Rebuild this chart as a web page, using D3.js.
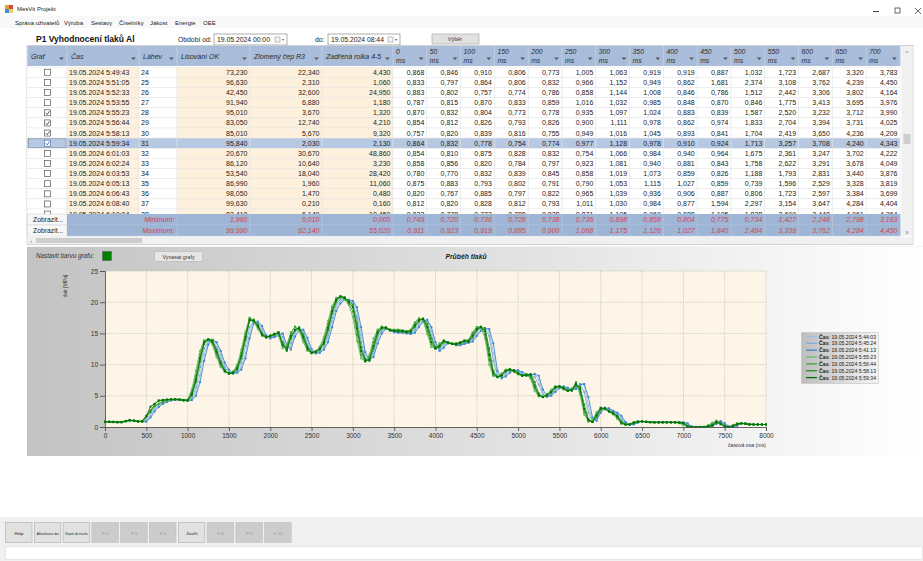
<!DOCTYPE html>
<html>
<head>
<meta charset="utf-8">
<script src="https://cdn.jsdelivr.net/npm/d3@7"></script>
<style>
  body { margin: 0; background: #fff; overflow: hidden; }
  svg { display: block; font-family: "Liberation Sans", Arial, sans-serif; }
</style>
</head>
<body>
<script>
// ---- tabulka (radky 24..38) ----
const rowNo = [24, 25, 26, 27, 28, 29, 30, 31, 32, 33, 34, 35, 36, 37, 38];
const rowTime = ["19.05.2024 5:49:43", "19.05.2024 5:51:05", "19.05.2024 5:52:33", "19.05.2024 5:53:55",
  "19.05.2024 5:55:23", "19.05.2024 5:56:44", "19.05.2024 5:58:13", "19.05.2024 5:59:34",
  "19.05.2024 6:01:03", "19.05.2024 6:02:24", "19.05.2024 6:03:53", "19.05.2024 6:05:13",
  "19.05.2024 6:06:43", "19.05.2024 6:08:40", "19.05.2024 6:10:04"];
const lisovaniOK = [73.23, 96.63, 42.45, 91.94, 95.01, 83.05, 85.01, 95.84, 20.67, 86.12, 53.54, 86.99, 98.05, 99.63, 83.41];
const zlomenyCep = [22.34, 2.31, 32.6, 6.88, 3.67, 12.74, 5.67, 2.03, 30.67, 10.64, 18.04, 1.96, 1.47, 0.21, 6.14];
const zadrenaRolka = [4.43, 1.06, 24.95, 1.18, 1.32, 4.21, 9.32, 2.13, 48.86, 3.23, 28.42, 11.06, 0.48, 0.16, 10.45];
const checkedRows = [28, 29, 30, 31];
const selectedRow = 31;
const msHeads = ["0", "50", "100", "150", "200", "250", "300", "350", "400", "450", "500", "550", "600", "650", "700"];
const msTable = [
  [0.868, 0.846, 0.910, 0.806, 0.773, 1.005, 1.063, 0.919, 0.919, 0.887, 1.032, 1.723, 2.687, 3.320, 3.783],
  [0.833, 0.797, 0.864, 0.806, 0.832, 0.966, 1.152, 0.949, 0.862, 1.681, 2.374, 3.108, 3.762, 4.239, 4.450],
  [0.883, 0.802, 0.757, 0.774, 0.786, 0.858, 1.144, 1.008, 0.846, 0.786, 1.512, 2.442, 3.306, 3.802, 4.164],
  [0.787, 0.815, 0.870, 0.833, 0.859, 1.016, 1.032, 0.985, 0.848, 0.870, 0.846, 1.775, 3.413, 3.695, 3.976],
  [0.870, 0.832, 0.804, 0.773, 0.778, 0.935, 1.097, 1.024, 0.883, 0.839, 1.587, 2.520, 3.232, 3.712, 3.990],
  [0.854, 0.812, 0.826, 0.793, 0.826, 0.900, 1.111, 0.978, 0.862, 0.974, 1.833, 2.704, 3.394, 3.731, 4.025],
  [0.757, 0.820, 0.839, 0.816, 0.755, 0.949, 1.016, 1.045, 0.893, 0.841, 1.704, 2.419, 3.650, 4.236, 4.209],
  [0.864, 0.832, 0.778, 0.754, 0.774, 0.977, 1.128, 0.978, 0.910, 0.924, 1.713, 3.257, 3.708, 4.240, 4.343],
  [0.854, 0.810, 0.875, 0.828, 0.832, 0.754, 1.066, 0.984, 0.940, 0.964, 1.675, 2.361, 3.247, 3.702, 4.222],
  [0.858, 0.856, 0.820, 0.784, 0.797, 0.923, 1.081, 0.940, 0.881, 0.843, 1.758, 2.622, 3.291, 3.678, 4.049],
  [0.780, 0.770, 0.832, 0.839, 0.845, 0.858, 1.019, 1.073, 0.859, 0.826, 1.188, 1.793, 2.831, 3.440, 3.876],
  [0.875, 0.883, 0.793, 0.802, 0.791, 0.790, 1.053, 1.115, 1.027, 0.859, 0.739, 1.596, 2.529, 3.328, 3.819],
  [0.820, 0.767, 0.885, 0.797, 0.822, 0.965, 1.039, 0.936, 0.906, 0.887, 0.806, 1.723, 2.597, 3.384, 3.699],
  [0.812, 0.820, 0.828, 0.812, 0.793, 1.011, 1.030, 0.984, 0.877, 1.594, 2.297, 3.154, 3.647, 4.284, 4.404],
  [0.833, 0.778, 0.773, 0.788, 0.828, 0.871, 1.105, 0.969, 0.888, 1.105, 1.838, 2.609, 3.448, 4.061, 4.264]
];
const minRow = [1.96, 0.01, 0.0, 0.749, 0.720, 0.736, 0.728, 0.738, 0.736, 0.898, 0.858, 0.804, 0.775, 0.734, 1.427, 2.248, 2.798, 3.163];
const maxRow = [99.99, 92.14, 55.02, 0.911, 0.923, 0.919, 0.885, 0.900, 1.068, 1.175, 1.126, 1.027, 1.840, 2.484, 3.339, 3.762, 4.284, 4.450];

// ---- graf: prubehy tlaku po 50 ms (0..8000) ----
const s054403 = [
  0.85,0.82,0.80,0.79,0.80,0.92,1.05,1.00,0.90,0.86,
  0.95,1.8,2.8,3.4,3.8,4.1,4.3,4.4,4.4,4.35,
  4.2,4.4,5.6,8.3,11.6,13.6,13.9,13.4,11.6,9.8,
  8.9,8.6,8.8,9.6,11.8,15.0,16.9,16.8,15.8,14.5,
  14.3,14.5,14.8,14.9,12.5,12.8,15.0,15.6,15.4,13.8,
  12.1,11.8,12.1,12.6,14.2,16.8,19.2,20.2,20.5,20.3,
  20.1,18.6,14.8,11.4,10.7,11.6,14.0,15.3,15.8,15.4,
  15.2,15.2,15.1,15.0,15.0,15.3,16.4,17.0,17.0,15.4,
  13.0,12.3,13.0,13.5,13.3,13.1,13.2,13.4,13.6,13.8,
  14.9,15.6,15.8,15.3,11.8,8.4,7.9,8.3,8.9,9.1,
  9.0,8.6,8.3,8.4,8.4,7.6,5.4,4.8,5.2,5.8,
  6.4,6.5,6.2,6.0,6.3,6.9,6.8,3.4,1.0,1.2,
  2.6,3.1,2.9,2.5,2.2,1.5,0.6,0.4,0.5,0.8,
  0.9,0.85,0.8,0.75,0.75,0.75,0.75,0.75,0.75,0.75,
  0.7,0.5,0.05,0,0,0,0,0.2,0.6,0.9,
  0.4,0.05,0,0.3,0.55,0.55,0.45,0.4,0.4,0.4,
  0.4];
const s054524 = [
  0.87,0.84,0.79,0.78,0.79,0.95,1.08,0.99,0.90,0.88,
  1.2,2.2,3.1,3.6,3.9,4.2,4.35,4.4,4.4,4.3,
  4.2,4.6,6.4,9.6,12.6,13.8,13.8,12.8,11.0,9.5,
  8.8,8.6,9.0,10.3,13.0,16.0,17.0,16.6,15.3,14.5,
  14.4,14.6,14.9,14.4,12.3,13.4,15.3,15.7,15.0,13.3,
  12.0,11.9,12.2,12.9,14.8,17.5,19.7,20.5,20.5,20.2,
  19.8,17.6,13.6,11.0,10.7,12.1,14.5,15.5,15.8,15.5,
  15.3,15.2,15.2,15.1,15.1,15.6,16.7,17.1,16.7,14.7,
  12.8,12.5,13.3,13.6,13.3,13.2,13.3,13.5,13.7,14.1,
  15.3,15.8,15.7,14.6,10.6,8.2,8.0,8.6,9.1,9.1,
  8.8,8.4,8.3,8.4,8.0,6.8,5.1,4.8,5.3,6.0,
  6.5,6.4,6.0,5.9,6.5,6.8,5.6,2.3,0.9,1.4,
  2.8,3.1,2.8,2.4,2.0,1.2,0.5,0.4,0.6,0.85,
  0.9,0.85,0.8,0.75,0.75,0.75,0.75,0.75,0.75,0.75,
  0.7,0.3,0,0,0,0,0.05,0.3,0.8,0.8,
  0.3,0,0.1,0.4,0.6,0.5,0.45,0.4,0.4,0.4,
  0.4];
const s054113 = [
  0.86,0.83,0.81,0.78,0.79,0.90,1.02,1.01,0.91,0.87,
  0.85,1.5,2.5,3.2,3.7,4.0,4.25,4.35,4.4,4.35,
  4.25,4.3,5.0,7.2,10.6,13.2,14.0,13.6,12.2,10.3,
  9.2,8.6,8.7,9.2,11.0,14.2,16.6,16.9,16.2,14.7,
  14.2,14.4,14.7,15.0,13.2,12.4,14.5,15.5,15.6,14.3,
  12.5,11.8,11.9,12.4,13.6,16.0,18.6,19.8,20.4,20.4,
  20.2,19.2,16.0,12.0,10.8,11.2,13.4,15.0,15.7,15.5,
  15.2,15.1,15.1,15.0,14.9,15.1,16.0,16.9,17.2,16.0,
  13.6,12.2,12.7,13.4,13.4,13.1,13.1,13.3,13.5,13.7,
  14.6,15.4,15.8,15.7,13.4,9.0,7.8,8.1,8.7,9.1,
  9.1,8.8,8.4,8.3,8.5,8.2,6.0,4.9,5.0,5.6,
  6.2,6.5,6.3,6.0,6.1,6.8,6.9,4.8,1.5,1.0,
  2.3,3.0,3.0,2.6,2.3,1.8,0.8,0.4,0.4,0.7,
  0.9,0.85,0.8,0.75,0.75,0.75,0.75,0.75,0.75,0.75,
  0.75,0.6,0.1,0,0,0,0,0.1,0.5,0.95,
  0.6,0.1,0,0.2,0.5,0.6,0.5,0.4,0.4,0.4,
  0.4];
const s055523 = [
  0.870,0.832,0.804,0.773,0.778,0.935,1.097,1.024,0.883,0.839,
  1.587,2.520,3.232,3.712,3.990,4.2,4.35,4.4,4.4,4.3,
  4.4,6.0,9.0,12.2,13.9,13.9,13.2,11.2,9.6,8.8,
  8.6,8.9,10.0,12.4,15.3,17.4,16.8,15.7,14.6,14.4,
  14.7,15.0,14.6,12.6,13.2,15.2,16.0,15.4,13.6,12.2,
  11.9,12.2,12.9,14.5,17.0,19.4,20.7,20.8,20.4,19.6,
  17.6,13.8,11.0,10.5,11.6,14.2,15.6,16.0,15.7,15.5,
  15.5,15.5,15.3,15.2,15.6,16.8,17.4,17.0,14.9,12.8,
  12.7,13.5,13.7,13.4,13.3,13.4,13.6,13.8,14.0,15.2,
  16.0,15.9,14.2,10.0,8.2,8.1,8.6,9.2,9.1,8.8,
  8.4,8.2,8.4,7.8,5.8,4.9,4.9,5.3,6.0,6.5,
  6.4,6.0,5.8,6.2,6.8,5.2,2.0,0.9,1.1,2.4,
  3.1,2.8,2.4,2.0,1.3,0.5,0.4,0.5,0.8,0.9,
  0.9,0.8,0.8,0.75,0.75,0.75,0.75,0.75,0.7,0.6,
  0.3,0.05,0,0,0,0.05,0.3,0.7,0.9,0.4,
  0.05,0.05,0.3,0.6,0.6,0.5,0.4,0.4,0.4,0.4,
  0.4];
const s055644 = [
  0.854,0.812,0.826,0.793,0.826,0.900,1.111,0.978,0.862,0.974,
  1.833,2.704,3.394,3.731,4.025,4.3,4.4,4.45,4.4,4.3,
  4.3,5.6,8.2,11.6,13.8,14.1,13.5,11.6,9.9,8.9,
  8.6,8.8,9.7,11.9,14.9,17.5,17.1,16.0,14.7,14.3,
  14.6,14.8,15.2,12.9,12.8,15.0,16.1,15.6,14.0,12.4,
  11.8,12.0,12.7,14.0,16.5,19.1,20.6,21.0,20.6,19.8,
  18.5,14.8,11.5,10.5,11.2,13.6,15.5,16.1,15.8,15.6,
  15.6,15.6,15.5,15.4,15.5,16.6,17.4,17.2,15.4,13.2,
  12.5,13.2,13.9,13.6,13.4,13.4,13.6,13.9,13.9,15.0,
  16.0,16.1,14.8,10.8,8.3,8.0,8.4,9.1,9.3,8.9,
  8.5,8.3,8.5,8.0,6.2,5.0,4.8,5.2,5.8,6.5,
  6.5,6.1,5.8,6.0,7.2,5.6,2.4,0.9,0.9,2.1,
  3.1,2.9,2.5,2.1,1.5,0.6,0.4,0.4,0.7,0.9,
  0.9,0.8,0.75,0.75,0.75,0.75,0.75,0.75,0.75,0.65,
  0.5,0.05,0,0,0,0,0.2,0.5,1.0,0.6,
  0.1,0,0.2,0.5,0.6,0.5,0.4,0.4,0.4,0.4,
  0.4];
const s055813 = [
  0.757,0.820,0.839,0.816,0.755,0.949,1.016,1.045,0.893,0.841,
  1.704,2.419,3.650,4.236,4.209,4.35,4.4,4.4,4.35,4.25,
  4.2,5.0,7.2,10.5,13.3,14.1,13.9,12.4,10.5,9.1,
  8.5,8.6,9.2,11.0,14.0,17.0,17.2,16.4,15.0,14.5,
  14.5,14.8,15.2,13.6,12.2,14.2,15.5,16.0,14.8,12.9,
  12.0,12.0,12.4,13.3,15.5,18.2,20.1,20.9,20.8,20.2,
  19.6,16.6,12.8,10.8,10.6,12.6,14.9,15.8,16.0,15.6,
  15.4,15.3,15.3,15.2,15.2,16.0,17.0,17.4,16.5,14.2,
  12.8,12.8,13.6,13.6,13.3,13.2,13.4,13.7,13.7,14.4,
  15.5,16.0,15.8,12.6,9.0,8.0,8.2,8.9,9.2,9.1,
  8.7,8.3,8.2,8.5,7.2,5.4,4.8,5.0,5.5,6.3,
  6.5,6.3,5.9,5.8,6.6,6.4,3.6,1.3,0.8,1.6,
  2.8,3.0,2.6,2.3,1.8,0.9,0.4,0.4,0.6,0.8,
  0.9,0.85,0.8,0.75,0.75,0.75,0.75,0.75,0.75,0.75,
  0.65,0.15,0,0,0,0,0.05,0.2,0.7,0.6,
  0.2,0,0.1,0.4,0.6,0.55,0.45,0.4,0.4,0.4,
  0.4];
const s055934 = [
  0.864,0.832,0.778,0.754,0.774,0.977,1.128,0.978,0.910,0.924,
  1.713,3.257,3.708,4.240,4.343,4.4,4.45,4.45,4.4,4.3,
  4.3,5.3,7.6,11.0,13.6,14.0,13.7,12.0,10.2,9.0,
  8.6,8.7,9.4,11.4,14.4,17.2,17.0,16.2,14.8,14.4,
  14.6,14.9,15.1,13.2,12.4,14.6,15.6,15.8,14.4,12.6,
  11.9,12.1,12.5,13.6,15.9,18.6,20.4,20.9,20.7,20.0,
  19.2,15.8,12.2,10.6,10.8,13.0,15.2,15.9,15.9,15.5,
  15.4,15.4,15.4,15.2,15.3,16.3,17.1,17.3,16.0,13.6,
  12.6,13.0,13.8,13.5,13.3,13.3,13.5,13.8,13.7,14.7,
  15.7,16.0,15.4,11.6,8.6,8.0,8.3,9.0,9.2,9.0,
  8.6,8.2,8.3,8.4,6.6,5.1,4.8,5.1,5.6,6.4,
  6.5,6.2,5.8,5.9,6.9,6.1,2.9,1.1,0.8,1.9,
  3.0,3.0,2.5,2.2,1.7,0.7,0.4,0.4,0.7,0.85,
  0.9,0.8,0.75,0.75,0.75,0.75,0.75,0.75,0.75,0.7,
  0.6,0.1,0,0,0,0,0.1,0.3,0.8,0.5,
  0.1,0,0.2,0.5,0.6,0.5,0.4,0.4,0.4,0.4,
  0.4];
const seriesNames = ["19.05.2024 5:44:03", "19.05.2024 5:45:24", "19.05.2024 5:41:13",
  "19.05.2024 5:55:23", "19.05.2024 5:56:44", "19.05.2024 5:58:13", "19.05.2024 5:59:34"];
const seriesValues = [s054403, s054524, s054113, s055523, s055644, s055813, s055934];
const seriesColors = ["#9cbfe2", "#80acda", "#3f86cc", "#6cbc6c", "#3ca53c", "#239323", "#007300"];
const xTicks = [0, 500, 1000, 1500, 2000, 2500, 3000, 3500, 4000, 4500, 5000, 5500, 6000, 6500, 7000, 7500, 8000];
const yTicks = [0, 5, 10, 15, 20, 25];
const bottomButtons = ["Help", "Aktualizace dat", "Export do excelu", "F 4", "F 5", "F 6", "Zavřít", "F 8", "F 9", "F 10"];
const disabledButtons = ["F 4", "F 5", "F 6", "F 8", "F 9", "F 10"];
const menuItems = ["Správa uživatelů", "Výroba", "Sestavy", "Číselníky", "Jakost", "Energie", "OEE"];

const cz = d3.formatLocale({ decimal: ",", thousands: " ", grouping: [3], currency: ["", " Kč"] });
const f3 = cz.format(".3f");

const W = 923, H = 561;
const svg = d3.select("body").append("svg").attr("width", W).attr("height", H);
const defs = svg.append("defs");

// ---- okno: titulek a menu ----
svg.append("rect").attr("width", W).attr("height", H).attr("fill", "#fff");
const ico = svg.append("g").attr("transform", "translate(5,5)");
ico.append("rect").attr("width", 4).attr("height", 4).attr("fill", "#e8a03c");
ico.append("rect").attr("x", 4).attr("width", 4).attr("height", 4).attr("fill", "#d24a3c");
ico.append("rect").attr("y", 4).attr("width", 4).attr("height", 4).attr("fill", "#4a8ad2");
ico.append("rect").attr("x", 4).attr("y", 4).attr("width", 4).attr("height", 4).attr("fill", "#f0d050");
svg.append("text").attr("x", 17).attr("y", 11).attr("font-size", 6).attr("fill", "#222").text("MesVit Projekt");
svg.append("line").attr("x1", 873).attr("x2", 879).attr("y1", 11.5).attr("y2", 11.5).attr("stroke", "#444");
svg.append("rect").attr("x", 895).attr("y", 8).attr("width", 5).attr("height", 5).attr("fill", "none").attr("stroke", "#444").attr("stroke-width", 0.8);
svg.append("path").attr("d", "M915,8L921,14M921,8L915,14").attr("stroke", "#444").attr("stroke-width", 0.8);

svg.append("rect").attr("y", 16).attr("width", W).attr("height", 12).attr("fill", "#f8f8f8");
const menuX = [15, 64, 91, 119, 150, 175, 203];
svg.selectAll(".menu").data(menuItems).join("text")
  .attr("x", (d, i) => menuX[i]).attr("y", 24.5).attr("font-size", 6).attr("fill", "#222").text(d => d);

svg.append("text").attr("x", 36).attr("y", 41.5).attr("font-size", 8.5).attr("font-weight", "bold").attr("fill", "#111")
  .text("P1 Vyhodnocení tlaků Al");
svg.append("text").attr("x", 178).attr("y", 42).attr("font-size", 6.8).attr("fill", "#222").text("Období od:");
svg.append("text").attr("x", 315).attr("y", 42).attr("font-size", 6.8).attr("fill", "#222").text("do:");
function dateBox(x, w, txt) {
  svg.append("rect").attr("x", x).attr("y", 34).attr("width", w).attr("height", 11)
    .attr("fill", "#fff").attr("stroke", "#8a8a8a").attr("stroke-width", 0.7);
  svg.append("text").attr("x", x + 3).attr("y", 42).attr("font-size", 6.8).attr("fill", "#222").text(txt);
  svg.append("rect").attr("x", x + w - 12).attr("y", 37).attr("width", 5).attr("height", 5)
    .attr("fill", "#f4f4f4").attr("stroke", "#999").attr("stroke-width", 0.6);
  svg.append("text").attr("x", x + w - 5).attr("y", 41).attr("font-size", 4).attr("fill", "#555").text("▾");
}
dateBox(214, 73, "19.05.2024 00:00");
dateBox(328, 72, "19.05.2024 08:44");
svg.append("rect").attr("x", 432).attr("y", 34).attr("width", 47).attr("height", 10)
  .attr("fill", "#e1e1e1").attr("stroke", "#b0b0b0").attr("stroke-width", 0.7);
svg.append("text").attr("x", 455).attr("y", 41).attr("font-size", 5.5).attr("text-anchor", "middle").attr("fill", "#333").text("Výběr");

// ---- tabulka ----
const colL = [27, 67, 139, 177, 250, 322, 393];
const msW = (900 - 393) / 15;
const colEdges = colL.concat(msHeads.map((d, i) => 393 + (i + 1) * msW));
const headTop = 46, headBot = 66, rowH = 10.13, bodyTop = 67.2, bodyBot = 214;
const beigeCols = [1, 3, 4, 5];

svg.append("rect").attr("x", 27).attr("y", 45.5).attr("width", 886).attr("height", 199)
  .attr("fill", "#fff").attr("stroke", "#c8c8c8").attr("stroke-width", 0.8);

const headerG = svg.append("g");
headerG.append("rect").attr("x", 27.5).attr("y", headTop).attr("width", 873).attr("height", headBot - headTop).attr("fill", "#a9bdda");
const leftHeads = ["Graf", "Čas", "Láhev", "Lisování OK", "Zlomený čep R3", "Zadřená rolka 4-5"];
leftHeads.forEach((h, i) => {
  headerG.append("text").attr("x", colEdges[i] + 4).attr("y", 58.5).attr("font-size", 7).attr("font-style", "italic").attr("fill", "#2a2a2a").text(h);
});
msHeads.forEach((h, i) => {
  const x0 = colEdges[6 + i];
  headerG.append("text").attr("x", x0 + 3).attr("y", 53.5).attr("font-size", 6.8).attr("font-style", "italic").attr("fill", "#2a2a2a").text(h);
  headerG.append("text").attr("x", x0 + 3).attr("y", 62.5).attr("font-size", 6.8).attr("font-style", "italic").attr("fill", "#2a2a2a").text("ms");
});
colEdges.slice(0, -1).forEach((x0, i) => {
  const x1 = colEdges[i + 1];
  headerG.append("path").attr("d", `M${x1 - 8},57.5l2.4,2.4l2.4,-2.4z`).attr("fill", "#555");
  headerG.append("line").attr("x1", x1).attr("x2", x1).attr("y1", headTop).attr("y2", headBot).attr("stroke", "#c8d4e6").attr("stroke-width", 0.7);
});

defs.append("clipPath").attr("id", "bodyClip").append("rect").attr("x", 27).attr("y", bodyTop - 1).attr("width", 874).attr("height", bodyBot - bodyTop + 1);
const body = svg.append("g").attr("clip-path", "url(#bodyClip)");

rowNo.forEach((no, r) => {
  const top = bodyTop + r * rowH;
  const cy = top + rowH / 2;
  const sel = no === selectedRow;
  for (let c = 0; c < colEdges.length - 1; c++) {
    let fill = beigeCols.includes(c) ? "#fdf0dc" : "#fff";
    if (sel) fill = "#b6c8e2";
    body.append("rect").attr("x", colEdges[c]).attr("y", top).attr("width", colEdges[c + 1] - colEdges[c]).attr("height", rowH)
      .attr("fill", fill).attr("stroke", "#e4e4e4").attr("stroke-width", 0.5);
  }
  // checkbox
  const cbx = 44.5, cby = cy - 3;
  body.append("rect").attr("x", cbx).attr("y", cby).attr("width", 6).attr("height", 6)
    .attr("fill", "#fff").attr("stroke", sel ? "#4a78b8" : "#555").attr("stroke-width", 0.7);
  if (checkedRows.includes(no)) {
    body.append("path").attr("d", `M${cbx + 1.2},${cby + 3}l1.6,1.7l2.2,-3.4`).attr("fill", "none")
      .attr("stroke", sel ? "#2a5aa0" : "#333").attr("stroke-width", 0.8);
  }
  if (sel) {
    body.append("rect").attr("x", 28.5).attr("y", top + 0.5).attr("width", 37.5).attr("height", rowH - 1)
      .attr("fill", "none").attr("stroke", "#333").attr("stroke-width", 0.5).attr("stroke-dasharray", "1,1");
  }
  const tcol = "#222";
  body.append("text").attr("x", 69).attr("y", cy + 2.5).attr("font-size", 7).attr("fill", tcol).text(rowTime[r]);
  body.append("text").attr("x", 141).attr("y", cy + 2.5).attr("font-size", 7).attr("fill", tcol).text(no);
  const nums = [lisovaniOK[r], zlomenyCep[r], zadrenaRolka[r]].concat(msTable[r]);
  nums.forEach((v, k) => {
    body.append("text").attr("x", colEdges[4 + k] - 2.5).attr("y", cy + 2.5).attr("font-size", 7)
      .attr("text-anchor", "end").attr("fill", tcol).text(f3(v));
  });
});

// minimum / maximum
[["Minimum:", minRow, 214], ["Maximum:", maxRow, 225]].forEach(([lab, vals, top]) => {
  svg.append("rect").attr("x", 27.5).attr("y", top).attr("width", 39.5).attr("height", 11).attr("fill", "#f7f7f7").attr("stroke", "#d0d0d0").attr("stroke-width", 0.5);
  svg.append("text").attr("x", 33).attr("y", top + 8).attr("font-size", 6.8).attr("fill", "#222").text("Zobrazit...");
  svg.append("rect").attr("x", 67).attr("y", top).attr("width", 833.5).attr("height", 11).attr("fill", "#9fb5d6");
  for (let c = 3; c < colEdges.length; c++) {
    svg.append("line").attr("x1", colEdges[c]).attr("x2", colEdges[c]).attr("y1", top).attr("y2", top + 11).attr("stroke", "#b9c9e0").attr("stroke-width", 0.6);
  }
  svg.append("line").attr("x1", 67).attr("x2", 900.5).attr("y1", top + 11).attr("y2", top + 11).attr("stroke", "#b9c9e0").attr("stroke-width", 0.6);
  svg.append("text").attr("x", 174.5).attr("y", top + 8).attr("font-size", 7).attr("font-style", "italic").attr("text-anchor", "end").attr("fill", "#d2474c").text(lab);
  vals.forEach((v, k) => {
    svg.append("text").attr("x", colEdges[4 + k] - 2.5).attr("y", top + 8).attr("font-size", 7).attr("font-style", "italic")
      .attr("text-anchor", "end").attr("fill", "#d2474c").text(f3(v));
  });
});

// scrollbary
svg.append("rect").attr("x", 901.5).attr("y", 46).attr("width", 11).attr("height", 190).attr("fill", "#f0f0f0");
svg.append("rect").attr("x", 903.5).attr("y", 134).attr("width", 7).attr("height", 10).attr("fill", "#cdcdcd");
svg.append("text").attr("x", 907).attr("y", 55).attr("font-size", 5).attr("text-anchor", "middle").attr("fill", "#666").text("^");
svg.append("text").attr("x", 907).attr("y", 234).attr("font-size", 5).attr("text-anchor", "middle").attr("fill", "#666").text("v");
svg.append("rect").attr("x", 27.5).attr("y", 237).attr("width", 885).attr("height", 7).attr("fill", "#f0f0f0");
svg.append("rect").attr("x", 36).attr("y", 238).attr("width", 106).attr("height", 5).attr("fill", "#cdcdcd");
svg.append("text").attr("x", 30).attr("y", 243).attr("font-size", 6).attr("fill", "#666").text("‹");

// ---- panel grafu ----
const pg = defs.append("linearGradient").attr("id", "panelGrad").attr("x1", 0).attr("x2", 1).attr("y1", 0).attr("y2", 0);
pg.append("stop").attr("offset", 0).attr("stop-color", "#c3c3c3");
pg.append("stop").attr("offset", 0.55).attr("stop-color", "#e2e2e2");
pg.append("stop").attr("offset", 1).attr("stop-color", "#ffffff");
svg.append("rect").attr("x", 27).attr("y", 246).attr("width", 896).attr("height", 210).attr("fill", "url(#panelGrad)");
svg.append("line").attr("x1", 27).attr("x2", 923).attr("y1", 246.5).attr("y2", 246.5).attr("stroke", "#f4f4f4");

svg.append("text").attr("x", 36).attr("y", 258).attr("font-size", 6.3).attr("font-style", "italic").attr("fill", "#333").text("Nastavit barvu grafu:");
svg.append("rect").attr("x", 102.5).attr("y", 251.5).attr("width", 9).attr("height", 9).attr("fill", "#008000").attr("stroke", "#555").attr("stroke-width", 0.5);
svg.append("rect").attr("x", 154.5).attr("y", 251.5).attr("width", 48).attr("height", 10).attr("fill", "#e6e6e6").attr("stroke", "#b4b4b4").attr("stroke-width", 0.6);
svg.append("text").attr("x", 178.5).attr("y", 258.5).attr("font-size", 5.3).attr("text-anchor", "middle").attr("fill", "#333").text("Vynasat grafy");
svg.append("text").attr("x", 466).attr("y", 259).attr("font-size", 6.8).attr("font-weight", "bold").attr("font-style", "italic")
  .attr("text-anchor", "middle").attr("fill", "#222").text("Průběh tlaků");

const x = d3.scaleLinear().domain([0, 8000]).range([105, 766]);
const y = d3.scaleLinear().domain([0, 25]).range([427, 271]);
const tms = d3.range(0, 8001, 50);

svg.append("rect").attr("x", x(0)).attr("y", y(25)).attr("width", x(8000) - x(0)).attr("height", y(0) - y(25)).attr("fill", "#fdf5e7");
const grid = svg.append("g").attr("stroke", "#bfb8ad").attr("stroke-width", 0.6).attr("stroke-dasharray", "1.5,1");
grid.selectAll(".gx").data(xTicks.slice(1)).join("line")
  .attr("x1", d => x(d)).attr("x2", d => x(d)).attr("y1", y(25)).attr("y2", y(0));
grid.selectAll(".gy").data(yTicks.slice(1)).join("line")
  .attr("x1", x(0)).attr("x2", x(8000)).attr("y1", d => y(d)).attr("y2", d => y(d));

const line = d3.line().x((d, i) => x(tms[i])).y(d => y(d));
seriesValues.forEach((vals, k) => {
  const g = svg.append("g");
  g.append("path").datum(vals).attr("d", line).attr("fill", "none").attr("stroke", seriesColors[k]).attr("stroke-width", 0.9);
  g.selectAll("rect").data(vals).join("rect")
    .attr("x", (d, i) => x(tms[i]) - 1).attr("y", d => y(d) - 1).attr("width", 2).attr("height", 2)
    .attr("fill", seriesColors[k]);
});

const yAxis = svg.append("g").attr("transform", `translate(${x(0)},0)`)
  .call(d3.axisLeft(y).tickValues(yTicks).tickSize(5).tickPadding(2).tickFormat(d3.format("d")));
const xAxis = svg.append("g").attr("transform", `translate(0,${y(0)})`)
  .call(d3.axisBottom(x).tickValues(xTicks).tickSize(4).tickPadding(2).tickFormat(d3.format("d")));
[xAxis, yAxis].forEach(a => {
  a.selectAll("path,line").attr("stroke", "#555").attr("stroke-width", 0.9);
  a.selectAll("text").attr("font-size", 6.5).attr("fill", "#333").attr("font-family", "Liberation Sans, Arial, sans-serif");
});
svg.append("text").attr("transform", "translate(67,286) rotate(-90)").attr("font-size", 5.2).attr("text-anchor", "middle").attr("fill", "#333").text("tlak [MPa]");
svg.append("text").attr("x", 766).attr("y", 447).attr("font-size", 5.2).attr("text-anchor", "end").attr("fill", "#333").text("časová osa (ms)");

// legenda
const lg = defs.append("linearGradient").attr("id", "legGrad").attr("x1", 0).attr("x2", 1).attr("y1", 0).attr("y2", 0);
lg.append("stop").attr("offset", 0).attr("stop-color", "#bdbdbd");
lg.append("stop").attr("offset", 1).attr("stop-color", "#f4f4f4");
svg.append("rect").attr("x", 801.5).attr("y", 332.5).attr("width", 77).attr("height", 51).attr("fill", "url(#legGrad)").attr("stroke", "#c4c4c4").attr("stroke-width", 0.6);
seriesNames.forEach((n, k) => {
  const ly = 336.5 + k * 6.85;
  svg.append("line").attr("x1", 806).attr("x2", 817).attr("y1", ly).attr("y2", ly).attr("stroke", seriesColors[k]).attr("stroke-width", 1.3);
  const t = svg.append("text").attr("x", 819).attr("y", ly + 2).attr("font-size", 5.2).attr("fill", "#222");
  t.append("tspan").attr("font-weight", "bold").text("Čas");
  t.append("tspan").text(": " + n);
});

// ---- spodni lista ----
svg.append("rect").attr("y", 517).attr("width", W).attr("height", 44).attr("fill", "#f0f0f0");
bottomButtons.forEach((b, i) => {
  const bx = 5 + i * 28.8;
  const dis = disabledButtons.includes(b);
  svg.append("rect").attr("x", bx + 0.5).attr("y", 522.5).attr("width", 26.5).attr("height", 20)
    .attr("fill", dis ? "#cccccc" : "#e1e1e1").attr("stroke", dis ? "#bdbdbd" : "#adadad").attr("stroke-width", 0.6);
  const t = svg.append("text").attr("x", bx + 14).attr("y", 534.5).attr("font-size", 4.4).attr("text-anchor", "middle")
    .attr("fill", dis ? "#9a9a9a" : "#222").text(b);
  if (b.length > 10) t.attr("textLength", 22).attr("lengthAdjust", "spacingAndGlyphs");
});
svg.append("rect").attr("x", 5.5).attr("y", 546.5).attr("width", 917).attr("height", 13).attr("fill", "#fff").attr("stroke", "#dadada").attr("stroke-width", 0.6);
</script>
</body>
</html>
